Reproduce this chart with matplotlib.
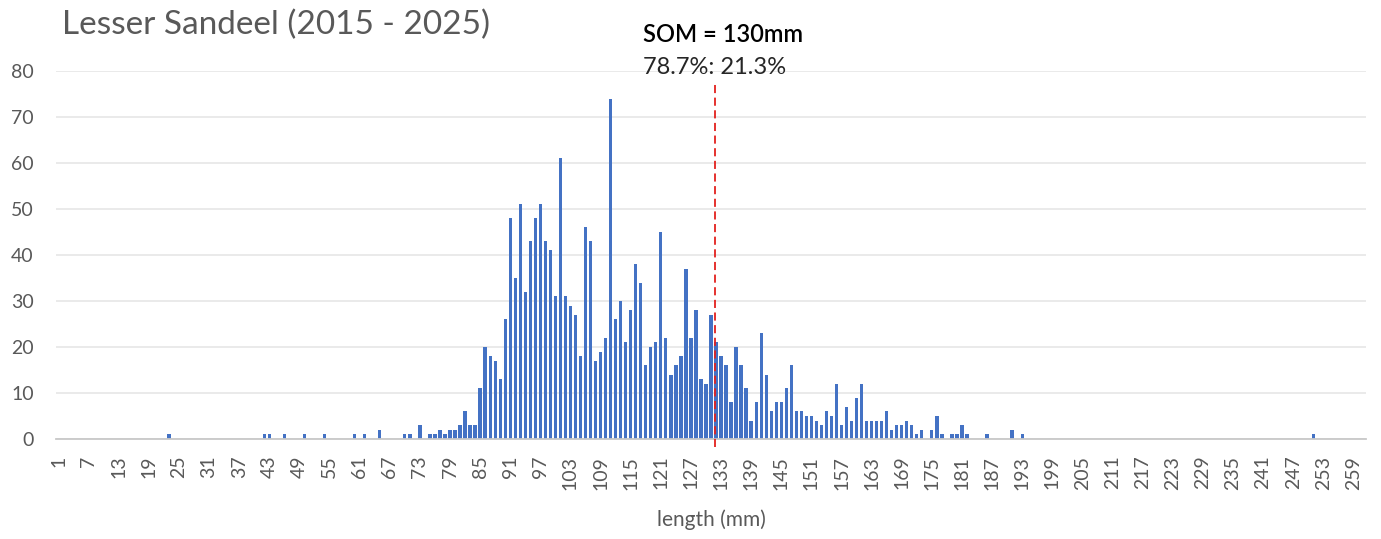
import numpy as np
import matplotlib
matplotlib.use("Agg")
import matplotlib.pyplot as plt

# Length-frequency of lesser sandeel, 2015 - 2025 (length in mm -> fish measured)
max_length = 261

# single fish well outside the main body of the distribution
stray_lengths = [23, 42, 43, 46, 50, 54, 60, 62, 251]
stray_counts = [1, 1, 1, 1, 1, 1, 1, 1, 1]

# continuous run of lengths starting at core_start mm
core_start = 65
core_counts = [
    2, 0, 0, 0, 0, 1, 1, 0, 3, 0,            # 65-74
    1, 1, 2, 1, 2, 2, 3, 6, 3, 3,            # 75-84
    11, 20, 18, 17, 13, 26, 48, 35, 51, 32,  # 85-94
    43, 48, 51, 43, 41, 31, 61, 31, 29, 27,  # 95-104
    18, 46, 43, 17, 19, 22, 74, 26, 30, 21,  # 105-114
    28, 38, 34, 16, 20, 21, 45, 22, 14, 16,  # 115-124
    18, 37, 22, 28, 13, 12, 27, 21, 18, 16,  # 125-134
    8, 20, 16, 11, 4, 8, 23, 14, 6, 8,       # 135-144
    8, 11, 16, 6, 6, 5, 5, 4, 3, 6,          # 145-154
    5, 12, 3, 7, 4, 9, 12, 4, 4, 4,          # 155-164
    4, 6, 2, 3, 3, 4, 3, 1, 2, 0,            # 165-174
    2, 5, 1, 0, 1, 1, 3, 1, 0, 0,            # 175-184
    0, 1, 0, 0, 0, 0, 2, 0, 1,               # 185-193
]

# size at maturity and the share of fish either side of it
som_length = 130
som_split = (78.7, 21.3)
# the SOM marker sits on its own scatter-style x axis
som_axis_max = 258.5

lengths = np.arange(1, max_length + 1)
counts = np.zeros(max_length)
counts[core_start - 1:core_start - 1 + len(core_counts)] = core_counts
counts[np.array(stray_lengths) - 1] = stray_counts

plt.rcParams['font.family'] = ['Lato', 'DejaVu Sans']
grey = '#595959'

fig = plt.figure(figsize=(13.81, 5.39), dpi=100)
ax = fig.add_axes([56 / 1381, 100 / 539, 1310 / 1381, 368 / 539])

ax.bar(lengths, counts, width=0.66, color='#4472C4', zorder=3)

ax.set_xlim(0.5, max_length + 0.5)
ax.set_ylim(0, 80)
ax.set_yticks(np.arange(0, 81, 10))
ax.set_xticks(np.arange(1, max_length + 1, 6))
ax.tick_params(axis='x', length=0, pad=12, labelrotation=90, labelsize=14, labelcolor=grey)
ax.tick_params(axis='y', length=0, pad=16, labelsize=14, labelcolor=grey)
for lab in ax.get_xticklabels():
    lab.set_va('top')

ax.grid(axis='y', color='#E6E6E6', linewidth=1.2, zorder=0)
for side in ['top', 'right', 'left']:
    ax.spines[side].set_visible(False)
ax.spines['bottom'].set_color('#C8C8C8')
ax.spines['bottom'].set_linewidth(1.3)
ax.spines['bottom'].set_zorder(4)

ax.set_xlabel('length (mm)', fontsize=15, color=grey, labelpad=14)

som_ax = ax.twiny()
som_ax.set_xlim(0, som_axis_max)
som_ax.axis('off')
som_ax.plot([som_length, som_length], [-1.7, 77.4], color='#E3211E',
            linewidth=1.3, dashes=(4.5, 2.5), clip_on=False, zorder=5)

fig.text(62 / 1381, 1 - 25 / 539, 'Lesser Sandeel (2015 - 2025)', fontsize=24,
         color=grey, va='center', ha='left')
fig.text(643 / 1381, 1 - 35 / 539, f'SOM = {som_length}mm', fontsize=17,
         fontweight='semibold', color='black', va='center', ha='left')
fig.text(643 / 1381, 1 - 68 / 539, f'{som_split[0]}%: {som_split[1]}%', fontsize=17,
         color='#262626', va='center', ha='left')

fig.savefig('out.png', dpi=100)
